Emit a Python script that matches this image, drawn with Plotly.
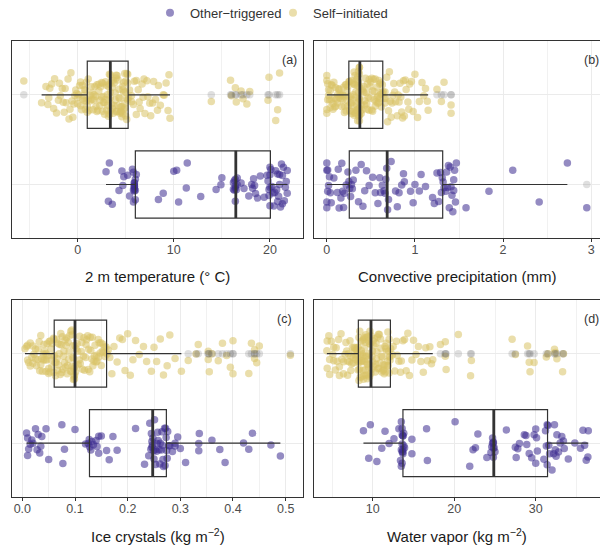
import numpy as np
import plotly.graph_objects as go

# ---------------- data ----------------
groups = ["Other−triggered", "Self−initiated"]
panel_tags = ["(a)", "(b)", "(c)", "(d)"]
axis_titles = ["2 m temperature (° C)", "Convective precipitation (mm)",
               "Ice crystals (kg m<sup>−2</sup>)", "Water vapor (kg m<sup>−2</sup>)"]

temp_self = [
    -5.6,
    -3.75, -3.3, -3.1, -3.0, -2.9, -2.7, -2.5, -2.4, -2.2, -2.0, -1.9, -1.8, -1.6, -1.5, -1.4,
    -1.3, -1.2, -1.0, -0.9, -0.8, -0.7, -0.6, -0.5, -0.4, -0.3, -0.2, -0.1, 0.0, 0.0, 0.1,
    0.2, 0.3, 0.3, 0.4, 0.5, 0.5, 0.6, 0.7, 0.7, 0.8, 0.8, 0.9, 0.9, 1.0,
    1.0, 1.1, 1.1, 1.2, 1.3, 1.3, 1.4, 1.5, 1.5, 1.6, 1.7, 1.7, 1.8, 1.9, 1.9,
    2.0, 2.0, 2.1, 2.2, 2.2, 2.3, 2.3, 2.4, 2.5, 2.5, 2.6, 2.6, 2.7, 2.7, 2.8,
    2.8, 2.9, 2.9, 3.0, 3.0, 3.1, 3.1, 3.2, 3.2, 3.3, 3.3, 3.3, 3.4, 3.4, 3.4,
    3.4, 3.5, 3.5, 3.6, 3.6, 3.7, 3.7, 3.8, 3.8, 3.9, 3.9, 4.0, 4.0, 4.0, 4.1,
    4.1, 4.2, 4.2, 4.3, 4.3, 4.4, 4.4, 4.5, 4.5, 4.5, 4.6, 4.6, 4.7, 4.7, 4.7,
    4.8, 4.8, 4.8, 4.9, 4.9, 4.9, 5.0, 5.0, 5.0, 5.1, 5.1, 5.1, 5.2, 5.2, 5.2,
    5.3, 5.4, 5.6, 5.6, 5.8, 5.9, 6.1, 6.1, 6.3, 6.4, 6.5, 6.7, 6.8, 6.9, 7.0,
    7.2, 7.3, 7.5, 7.6, 7.8, 7.9, 8.1, 8.3, 8.4, 8.6, 8.9, 9.0, 9.2, 9.4, 9.5, 9.6,
    13.9, 15.9, 16.0, 16.4, 16.5, 17.0, 17.2, 17.6, 17.9, 19.8, 19.9, 20.6, 20.8, 21.0,
]
temp_other = [
    2.95, 3.2, 3.3, 3.6, 4.3, 4.6, 4.7, 4.8, 5.2, 5.4, 5.7, 5.8, 5.8, 5.8, 5.9, 5.9,
    5.9, 5.9, 5.9, 5.9, 5.9, 6.0,
    6.0, 6.0, 6.1, 8.4, 8.9, 10.0, 10.3, 10.5, 11.3, 11.4, 12.8, 14.4, 14.9, 15.0, 16.2,
    16.2, 16.3, 16.3, 16.4, 16.4, 16.4, 16.4,
    16.5, 16.6, 16.6, 17.0, 17.3, 17.8, 18.1, 18.2, 18.3, 18.4, 18.5, 18.7, 19.0, 19.4,
    19.7, 19.8, 19.9, 19.9, 20.0, 20.0, 20.0, 20.0,
    20.1, 20.2, 20.3, 20.4, 20.5, 20.6, 20.7, 20.8, 20.8, 20.9, 21.0, 21.0, 21.1, 21.2,
    21.3, 21.3, 21.4, 21.5, 21.6, 21.7, 21.8, 21.8,
]

precip_self = [
    0.0, 0.0, 0.0, 0.0, 0.01, 0.01, 0.02, 0.02, 0.03, 0.04, 0.04, 0.05, 0.05, 0.06, 0.07,
    0.07, 0.08, 0.09, 0.09, 0.10, 0.10, 0.11, 0.12, 0.12, 0.13, 0.14, 0.14, 0.15, 0.16, 0.16,
    0.17, 0.18, 0.18, 0.19, 0.19, 0.20, 0.20, 0.21, 0.22, 0.22, 0.23, 0.23, 0.24, 0.24, 0.25,
    0.25, 0.26, 0.26, 0.27, 0.27, 0.28, 0.28, 0.28, 0.29, 0.29, 0.30, 0.30, 0.30, 0.31, 0.31,
    0.31, 0.32, 0.32, 0.32, 0.33, 0.33, 0.33, 0.34, 0.34, 0.34, 0.35, 0.35, 0.35, 0.35, 0.36,
    0.36, 0.36, 0.36, 0.36, 0.37, 0.37, 0.37, 0.37, 0.37, 0.37, 0.37, 0.37, 0.37, 0.37, 0.37,
    0.38, 0.39, 0.39, 0.40, 0.40, 0.41, 0.42, 0.42, 0.43, 0.43, 0.44, 0.45, 0.45, 0.46, 0.46,
    0.47, 0.48, 0.48, 0.49, 0.49, 0.50, 0.51, 0.51, 0.52, 0.52, 0.53, 0.54, 0.54, 0.55, 0.55,
    0.56, 0.57, 0.57, 0.58, 0.58, 0.59, 0.59, 0.60, 0.60, 0.61, 0.61, 0.62, 0.62, 0.63, 0.63,
    0.64, 0.65, 0.66, 0.66, 0.67, 0.68, 0.69, 0.70, 0.71, 0.72, 0.73, 0.74, 0.75, 0.76, 0.77,
    0.78, 0.80, 0.81, 0.82, 0.83, 0.84, 0.85, 0.86, 0.87, 0.88, 0.89, 0.90, 0.92, 0.93, 0.94,
    0.96, 0.98, 1.00, 1.03, 1.05, 1.08, 1.10, 1.12, 1.14, 1.15,
    1.25, 1.30, 1.33, 1.41, 1.41,
]
precip_other = [
    0.0, 0.0, 0.0, 0.0, 0.01, 0.01, 0.02, 0.03, 0.04, 0.05, 0.08, 0.12, 0.13, 0.14, 0.16,
    0.17, 0.18, 0.19, 0.20, 0.22, 0.24, 0.25,
    0.26, 0.27, 0.28, 0.29, 0.30, 0.33, 0.36, 0.39, 0.41, 0.43, 0.45, 0.48, 0.52, 0.55, 0.58,
    0.60, 0.61, 0.63, 0.65, 0.66, 0.67, 0.68,
    0.69, 0.70, 0.73, 0.78, 0.80, 0.82, 0.85, 0.87, 0.88, 0.95, 0.98, 1.00, 1.05, 1.07, 1.12,
    1.20, 1.22, 1.25, 1.27, 1.29, 1.30, 1.31,
    1.32, 1.33, 1.35, 1.36, 1.37, 1.38, 1.39, 1.40, 1.41, 1.42, 1.43, 1.44, 1.44, 1.45, 1.46,
    1.47, 1.58, 1.84, 2.11, 2.41, 2.73, 2.95,
]

ice_self = [
    0.005, 0.008, 0.010, 0.010, 0.012, 0.015, 0.015, 0.018, 0.020, 0.020, 0.022, 0.025, 0.025,
    0.027, 0.030, 0.030, 0.032, 0.033, 0.035, 0.035, 0.037, 0.038, 0.040, 0.040, 0.041, 0.042,
    0.043, 0.045, 0.045, 0.046, 0.047, 0.048, 0.050, 0.050, 0.051, 0.052, 0.053, 0.054, 0.055,
    0.056, 0.057, 0.058, 0.059, 0.060, 0.060,
    0.061, 0.062, 0.063, 0.064, 0.065, 0.066, 0.067, 0.068, 0.069, 0.070, 0.071, 0.072, 0.073,
    0.074, 0.075, 0.076, 0.077, 0.078, 0.079, 0.080, 0.081, 0.082, 0.083, 0.084, 0.085, 0.086,
    0.087, 0.088, 0.089, 0.090, 0.091, 0.092, 0.093, 0.094, 0.095, 0.095, 0.096, 0.096, 0.097,
    0.097, 0.098, 0.098, 0.099, 0.099, 0.100,
    0.100, 0.101, 0.102, 0.104, 0.105, 0.106, 0.108, 0.109, 0.110, 0.112, 0.113, 0.114, 0.116,
    0.117, 0.118, 0.120, 0.121, 0.122, 0.124, 0.125, 0.126, 0.128, 0.129, 0.130, 0.132, 0.133,
    0.134, 0.136, 0.137, 0.138, 0.140, 0.141, 0.142, 0.144, 0.145, 0.146, 0.148, 0.149, 0.150,
    0.152, 0.153, 0.154, 0.156, 0.157, 0.159,
    0.161, 0.163, 0.166, 0.170, 0.174, 0.180, 0.185, 0.190, 0.195, 0.200, 0.205, 0.210, 0.215,
    0.222, 0.230, 0.236, 0.245, 0.250, 0.255, 0.262, 0.268, 0.275, 0.280, 0.290, 0.302,
    0.315, 0.330, 0.334, 0.353, 0.353, 0.355, 0.360, 0.372, 0.380, 0.388, 0.395, 0.400, 0.400,
    0.430, 0.435, 0.441, 0.441, 0.445, 0.450, 0.509,
]
ice_other = [
    0.008, 0.010, 0.010, 0.012, 0.015, 0.018, 0.020, 0.025, 0.028, 0.030, 0.033, 0.035, 0.037,
    0.045, 0.050, 0.075, 0.077, 0.080, 0.100, 0.120, 0.125, 0.127,
    0.128, 0.130, 0.132, 0.135, 0.140, 0.142, 0.145, 0.145, 0.150, 0.160, 0.165, 0.172, 0.180,
    0.215, 0.232, 0.240, 0.242, 0.244, 0.245, 0.246, 0.246, 0.247,
    0.248, 0.249, 0.250, 0.251, 0.252, 0.253, 0.255, 0.256, 0.257, 0.258, 0.260, 0.261, 0.262,
    0.264, 0.265, 0.266, 0.267, 0.268, 0.270, 0.271, 0.272, 0.273,
    0.274, 0.275, 0.276, 0.278, 0.280, 0.285, 0.290, 0.290, 0.295, 0.300, 0.310, 0.335, 0.335,
    0.336, 0.360, 0.375, 0.385, 0.420, 0.430, 0.437, 0.472, 0.490,
]

vapor_self = [
    4.36, 4.4, 4.4, 4.6, 4.7, 4.7, 4.9, 5.1, 5.2, 5.2, 5.4, 5.5, 5.6, 5.8, 5.9, 5.9, 6.1, 6.2,
    6.4, 6.4, 6.6, 6.7, 6.8, 6.9, 6.9, 7.0, 7.1, 7.2, 7.3, 7.3, 7.4, 7.5, 7.6, 7.6, 7.7, 7.8,
    7.8, 7.9, 7.9, 8.0, 8.1, 8.1, 8.2, 8.2, 8.2,
    8.25, 8.3, 8.3, 8.35, 8.4, 8.4, 8.45, 8.5, 8.5, 8.55, 8.6, 8.6, 8.65, 8.7, 8.7, 8.75, 8.8,
    8.8, 8.85, 8.9, 8.9, 8.95, 9.0, 9.0, 9.05, 9.1, 9.1, 9.15, 9.2, 9.2, 9.25, 9.3, 9.3, 9.35,
    9.4, 9.4, 9.45, 9.5, 9.5, 9.55, 9.6, 9.6, 9.65, 9.7, 9.75,
    9.8, 9.85, 9.9, 9.95, 10.0, 10.05, 10.1, 10.15, 10.2, 10.3, 10.35, 10.4, 10.45, 10.5, 10.6,
    10.65, 10.7, 10.75, 10.8, 10.9, 10.95, 11.0, 11.05, 11.1, 11.2, 11.25, 11.3, 11.35, 11.4,
    11.45, 11.5, 11.55, 11.6, 11.65, 11.7, 11.75, 11.8, 11.85, 11.9, 11.95, 12.0, 12.0, 12.05,
    12.1, 12.12,
    12.2, 12.4, 12.5, 12.7, 12.9, 13.0, 13.2, 13.4, 13.5, 13.7, 13.9, 14.1, 14.3, 14.5, 14.8,
    15.0, 15.3, 15.6, 15.9, 16.2, 16.5, 16.7, 17.0, 17.2, 17.36,
    18.3, 18.9, 18.9, 19.0, 20.5, 22.0, 22.1, 27.1, 27.5, 29.0, 29.2, 29.3, 29.8, 31.3, 31.5,
    32.3, 32.4, 32.6, 33.3, 33.4,
]
vapor_other = [
    8.85, 9.5, 9.7, 10.5, 11.1, 11.5, 12.0, 12.6, 13.2, 13.4, 13.5, 13.5, 13.5, 13.6, 13.6,
    13.6, 13.6, 13.6, 13.7, 13.7, 13.7, 13.7,
    13.7, 13.8, 13.8, 13.9, 14.8, 14.8, 16.6, 16.7, 20.1, 21.9, 22.3, 22.6, 22.9, 24.0, 24.5,
    24.6, 24.7, 24.7, 24.8, 24.8, 24.8, 24.8,
    24.9, 25.0, 26.4, 27.5, 27.6, 27.8, 28.0, 28.6, 28.8, 28.9, 29.2, 29.5, 29.8, 30.0, 30.0,
    30.1, 30.2, 31.0, 31.2, 31.3, 31.4, 31.4,
    31.5, 31.6, 31.7, 32.0, 32.2, 32.3, 32.4, 32.5, 32.6, 32.8, 33.0, 33.2, 33.4, 33.5, 34.0,
    34.8, 35.5, 35.8, 36.0, 36.2, 36.4, 36.45,
]

# ---------------- styling ----------------
FONT = "Liberation Sans, Arial, Helvetica, sans-serif"
PURPLE = "#3d2b8f"
YELLOW = "#d8c266"
PT_ALPHA = 0.55
LINE = "#333333"
GRID = "#ebebeb"
W, H = 600, 550

group_pos = [1, 2]          # Other (bottom), Self (top)
group_col = [PURPLE, YELLOW]

panels = [
    dict(data=(temp_other, temp_self), xr=[-6.86, 23.47], dt=10, mdt=5, fmt=None,
         px=(11.7, 303.3), py=(41.0, 238.3), mirror=True, tagx=0.954),
    dict(data=(precip_other, precip_self), xr=[-0.151, 3.10], dt=1, mdt=0.5, fmt=None,
         px=(313.5, 600.0), py=(41.0, 238.3), mirror=False, tagx=0.970),
    dict(data=(ice_other, ice_self), xr=[-0.0202, 0.5335], dt=0.1, mdt=0.05, fmt=".1f",
         px=(11.7, 303.3), py=(300.0, 496.7), mirror=True, tagx=0.937),
    dict(data=(vapor_other, vapor_self), xr=[2.72, 37.89], dt=10, mdt=5, fmt=None,
         px=(313.5, 600.0), py=(300.0, 496.7), mirror=False, tagx=0.970),
]


def density_groups(vals):
    """Group the values by local crowding, so that plotly's density-scaled
    jitter spreads sparse stretches as widely as dense ones."""
    a = np.sort(np.asarray(vals, dtype=float))
    n = a.size
    q1, q3 = np.percentile(a, [25, 75])
    typical = max((a[-1] - a[0]) / 10.0, q3 - q1)
    f = np.empty(n)
    for k in range(n):
        lo, hi = max(0, k - 5), min(n - 1, k + 5)
        f[k] = min(1.0, np.sqrt(0.01 * typical * (hi - lo) / (a[hi] - a[lo] + typical * 1e-9)))
    masks = [f >= 0.75, (f >= 0.45) & (f < 0.75), (f >= 0.25) & (f < 0.45), f < 0.25]
    return [a[mk].tolist() for mk in masks if mk.any()]


fig = go.Figure()
annotations = []
layout_axes = {}

for i, p in enumerate(panels):
    n = "" if i == 0 else str(i + 1)
    xa, ya = "x" + n, "y" + n
    for g in range(2):
        vals = p["data"][g]
        pos = group_pos[g]
        col = group_col[g]
        # jittered points, drawn with plotly's own jitter
        for part in density_groups(vals):
            fig.add_trace(go.Box(
                x=part, y0=pos, orientation="h", width=0.75,
                boxpoints="all", jitter=0.82, pointpos=0,
                line=dict(width=0, color="rgba(0,0,0,0)"), fillcolor="rgba(0,0,0,0)",
                marker=dict(color=col, opacity=PT_ALPHA, size=7.5, line=dict(width=0)),
                showlegend=False, hoverinfo="skip", xaxis=xa, yaxis=ya))
    for g in range(2):
        vals = p["data"][g]
        pos = group_pos[g]
        # box with outliers on the centre line
        fig.add_trace(go.Box(
            x=vals, y0=pos, orientation="h", width=0.75,
            boxpoints="outliers", jitter=0, pointpos=0, whiskerwidth=0,
            line=dict(width=1.2, color=LINE), fillcolor="rgba(0,0,0,0)",
            marker=dict(color="rgba(95,95,95,0.2)", size=7.5, line=dict(width=0)),
            showlegend=False, hoverinfo="skip", xaxis=xa, yaxis=ya))
        # thick median line
        m = float(np.median(vals))
        fig.add_trace(go.Box(
            y=[pos], q1=[m], median=[m], q3=[m], lowerfence=[m], upperfence=[m],
            orientation="h", width=0.75, whiskerwidth=0, boxpoints=False,
            line=dict(width=2.8, color=LINE), fillcolor="rgba(0,0,0,0)",
            showlegend=False, hoverinfo="skip", xaxis=xa, yaxis=ya))

    x0, x1 = p["px"]
    y0, y1 = p["py"]
    xd = [max(0.0, x0 / W), min(1.0, x1 / W)]
    yd = [1 - y1 / H, 1 - y0 / H]
    layout_axes["xaxis" + n] = dict(
        domain=xd, anchor=ya, range=p["xr"], autorange=False,
        tick0=0, dtick=p["dt"], tickformat=p["fmt"],
        showline=True, linecolor=LINE, linewidth=1, mirror=True,
        ticks="outside", ticklen=3, tickwidth=1, tickcolor=LINE,
        ticklabelstandoff=-3,
        tickfont=dict(size=12.5, color="#4d4d4d", family=FONT),
        showgrid=True, gridcolor=GRID, gridwidth=1.1, zeroline=False,
        minor=dict(dtick=p["mdt"], tick0=0, showgrid=True, gridcolor="#f1f1f1",
                   gridwidth=0.7, ticks=""),
        automargin=False, fixedrange=True)
    layout_axes["yaxis" + n] = dict(
        domain=yd, anchor=xa, type="linear", range=[0.4, 2.6], autorange=False,
        tickvals=group_pos, showticklabels=False, ticks="",
        showline=True, linecolor=LINE, linewidth=1, mirror=p["mirror"],
        showgrid=True, gridcolor=GRID, gridwidth=1.1, zeroline=False,
        automargin=False, fixedrange=True)

    annotations.append(dict(
        text=axis_titles[i], xref=xa + " domain", yref=ya + " domain",
        x=0.5, y=0, xanchor="center", yanchor="middle", yshift=-38.5,
        showarrow=False, font=dict(size=15, color="#1a1a1a", family=FONT)))
    annotations.append(dict(
        text=panel_tags[i], xref=xa + " domain", yref=ya + " domain",
        x=p["tagx"], y=0.904, xanchor="center", yanchor="middle",
        showarrow=False, font=dict(size=12.5, color="#333333", family=FONT)))

# legend entries (dots)
for g in range(2):
    fig.add_trace(go.Scatter(
        x=[None], y=[None], mode="markers", name=groups[g],
        marker=dict(color=group_col[g], opacity=PT_ALPHA, size=8),
        xaxis="x", yaxis="y", showlegend=True))

fig.update_layout(
    width=W, height=H,
    margin=dict(l=0, r=0, t=0, b=0, autoexpand=False),
    paper_bgcolor="white", plot_bgcolor="white",
    font=dict(family=FONT, color="#333333"),
    boxmode="overlay",
    annotations=annotations,
    legend=dict(orientation="h", x=0.25, y=1.004, xanchor="left", yanchor="top",
                entrywidth=78,
                font=dict(size=13, color="#333333", family=FONT),
                bgcolor="rgba(0,0,0,0)", itemclick=False, itemdoubleclick=False,
                tracegroupgap=0),
    hovermode=False,
    **layout_axes,
)

fig.write_html("out.html", config={"displayModeBar": False},
               post_script="document.body.style.margin='0';")
